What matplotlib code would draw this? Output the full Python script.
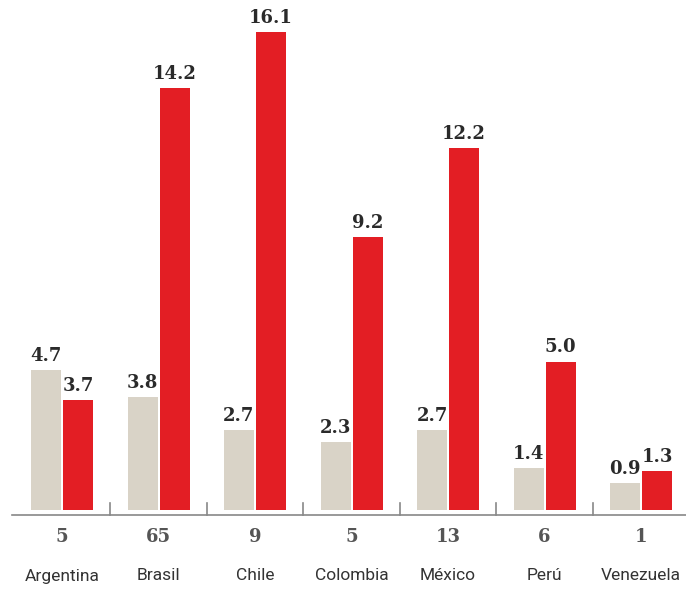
import matplotlib.pyplot as plt

countries = ["Argentina", "Brasil", "Chile", "Colombia", "México", "Perú", "Venezuela"]
counts = ["5", "65", "9", "5", "13", "6", "1"]
gray_vals = [4.7, 3.8, 2.7, 2.3, 2.7, 1.4, 0.9]
red_vals = [3.7, 14.2, 16.1, 9.2, 12.2, 5.0, 1.3]

GRAY = "#d9d3c7"
RED = "#e31e24"
PX_X = 96.5   # pixels per group
PX_Y = 29.7   # pixels per unit

fig = plt.figure(figsize=(6.86, 5.89), dpi=100)
ax = fig.add_axes([0, 0, 1, 1])
ax.set_xlim(-62 / PX_X, (686 - 62) / PX_X)
ax.set_ylim(-79 / PX_Y, 510 / PX_Y)
ax.axis("off")

w = 30 / PX_X
off = 16 / PX_X
xs = list(range(len(countries)))

ax.bar([x - off for x in xs], gray_vals, width=w, color=GRAY)
ax.bar([x + off for x in xs], red_vals, width=w, color=RED)

serif = dict(family="DejaVu Serif", fontweight="heavy")
for x, g, r in zip(xs, gray_vals, red_vals):
    ax.text(x - off, g + 5 / PX_Y, f"{g:.1f}", ha="center", va="bottom",
            fontsize=13, color="#2a2a2a", **serif)
    ax.text(x + off, r + 5 / PX_Y, f"{r:.1f}", ha="center", va="bottom",
            fontsize=13, color="#2a2a2a", **serif)

# baseline and group separators
base = -5 / PX_Y
ax.plot([(12 - 62) / PX_X, (686 - 62) / PX_X], [base, base], color="#888888", lw=1.2)
for x in xs[:-1]:
    ax.plot([x + 0.5, x + 0.5], [base, 7 / PX_Y], color="#888888", lw=1.2)

for x, c, n in zip(xs, countries, counts):
    ax.text(x, -27 / PX_Y, n, ha="center", va="center", fontsize=13,
            color="#555555", **serif)
    ax.text(x, -66 / PX_Y, c, ha="center", va="center", fontsize=12.5,
            color="#333333", family="Roboto")

fig.savefig("out.png", dpi=100)
